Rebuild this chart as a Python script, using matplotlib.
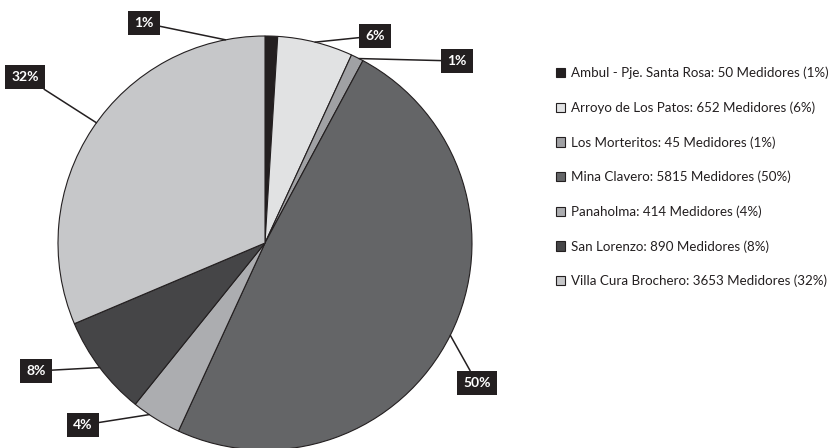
import numpy as np
import matplotlib.pyplot as plt

plt.rcParams['font.family'] = ['Lato', 'DejaVu Sans']

names = ['Ambul - Pje. Santa Rosa', 'Arroyo de Los Patos', 'Los Morteritos',
         'Mina Clavero', 'Panaholma', 'San Lorenzo', 'Villa Cura Brochero']
medidores = [50, 652, 45, 5815, 414, 890, 3653]
pcts = [1, 6, 1, 50, 4, 8, 32]
colors = ['#231f20', '#e1e2e3', '#a0a1a4', '#646567', '#acadb0', '#454547', '#c6c7c9']

# label box centres (image pixels) and where the leader touches the arc (deg)
box_xy = [(144, 23), (375, 36), (457, 61), (477, 383), (83, 425), (36, 371), (25, 77)]
anchor_deg = [101, 76, 63, None, -124, -143, 144.5]

W, H = 838, 448
cx, cy, r = 265, H - 243, 207

fig = plt.figure(figsize=(W / 100, H / 100), dpi=100)
ax = fig.add_axes([0, 0, 1, 1])
# slices drawn from the rounded percentages, as in the original
wedges, _ = ax.pie(pcts, colors=colors, startangle=90, counterclock=False,
                   center=(cx, cy), radius=r,
                   wedgeprops=dict(edgecolor='#231f20', linewidth=0.8))
ax.set_xlim(0, W)
ax.set_ylim(0, H)
ax.set_aspect('equal')
ax.axis('off')

for w, p, (bx, by), a in zip(wedges, pcts, box_xy, anchor_deg):
    if a is None:
        a = (w.theta1 + w.theta2) / 2
    t = np.deg2rad(a)
    px, py = cx + r * np.cos(t), cy + r * np.sin(t)
    ax.annotate(f'{p}%', xy=(px, py), xytext=(bx, H - by),
                ha='center', va='center', color='white', fontsize=10, fontweight='bold',
                bbox=dict(boxstyle='square,pad=0.45', fc='#231f20', ec='none'),
                arrowprops=dict(arrowstyle='-', color='#231f20', lw=1.1,
                                shrinkA=0, shrinkB=0))

labels = [f'{n}: {m} Medidores ({p}%)' for n, m, p in zip(names, medidores, pcts)]
leg = ax.legend(wedges, labels, loc='upper left', bbox_to_anchor=(549 / W, 1 - 60 / H),
                bbox_transform=fig.transFigure, frameon=False, fontsize=9.6,
                handlelength=0.7, handleheight=0.7, handletextpad=0.45,
                labelspacing=1.66, borderpad=0)
for t in leg.get_texts():
    t.set_color('#231f20')

fig.savefig('out.png', dpi=100)
